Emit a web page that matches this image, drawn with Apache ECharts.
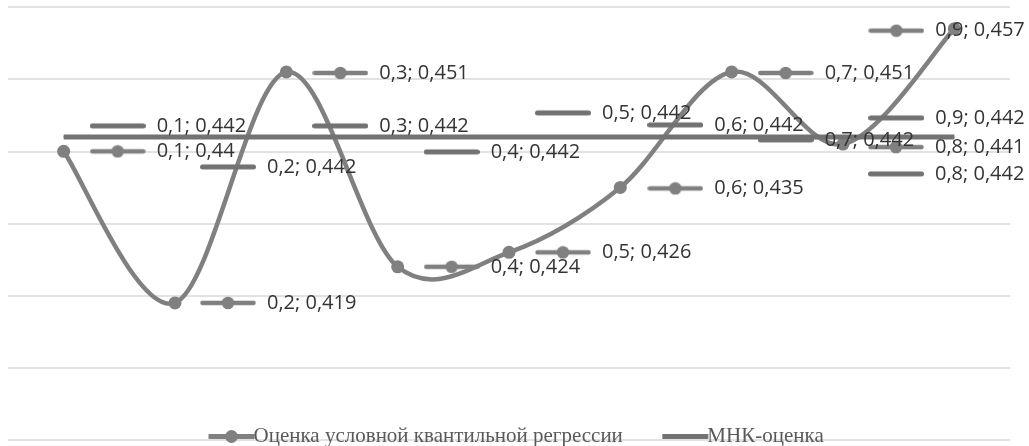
<!DOCTYPE html>
<html>
<head>
<meta charset="utf-8">
<script src="https://cdn.jsdelivr.net/npm/echarts@6/dist/echarts.min.js"></script>
<style>
  html, body { margin: 0; padding: 0; background: #ffffff; }
  #chart { width: 1029px; height: 446px; }
</style>
</head>
<body>
<div id="chart"></div>
<script>
// Quantile levels on the category axis
const CATEGORIES = ['0,1', '0,2', '0,3', '0,4', '0,5', '0,6', '0,7', '0,8', '0,9'];
// Conditional quantile regression estimates
const QUANTILE_EST = [0.44, 0.419, 0.451, 0.424, 0.426, 0.435, 0.451, 0.441, 0.457];
// OLS estimate (constant across quantiles)
const OLS_EST = [0.442, 0.442, 0.442, 0.442, 0.442, 0.442, 0.442, 0.442, 0.442];
const SERIES_NAMES = ['Оценка условной квантильной регрессии', 'МНК-оценка'];

// Label placement: [dx, dy] in px from the data point to the label's key start
const QUANT_LABEL_SHIFT = [[26, 0], [25, 0], [26, 1], [26, 0], [26, 0], [27, 1], [26, 1], [25, 3], [-86, 2]];
const OLS_LABEL_SHIFT = [[26, -11], [25, 30], [26, -11], [26, 15], [26, -24], [27, -12], [26, 3], [25, 37], [-86, -19]];

const COLOR_Q = '#808080';
const COLOR_OLS = '#727272';
const Q_WIDTH = 4.5;

// Small legend-key pictures placed in front of each data label
function makeKey(color, lineWidth, withDot) {
  const c = document.createElement('canvas');
  c.width = 56; c.height = 14;
  const g = c.getContext('2d');
  g.strokeStyle = color;
  g.lineWidth = lineWidth;
  g.lineCap = 'round';
  g.beginPath();
  g.moveTo(2.5, 7); g.lineTo(53.5, 7);
  g.stroke();
  if (withDot) {
    g.fillStyle = color;
    g.beginPath();
    g.arc(28, 7, 6.3, 0, Math.PI * 2);
    g.fill();
  }
  return c;
}
const KEY_Q = makeKey(COLOR_Q, 4.5, true);
const KEY_OLS = makeKey(COLOR_OLS, 5, false);

const fmt = v => String(v).replace('.', ',');

function labelCfg(keyImg) {
  return {
    show: true,
    formatter: p => '{k| }{t|' + CATEGORIES[p.dataIndex] + '; ' + fmt(p.value) + '}',
    rich: {
      k: { width: 56, height: 14, backgroundColor: { image: keyImg } },
      t: { fontFamily: 'Open Sans', fontSize: 20, color: '#333333', padding: [0, 0, 0, 11] }
    }
  };
}

function layoutWith(shifts) {
  return function (p) {
    const s = shifts[p.dataIndex];
    return {
      x: p.rect.x + p.rect.width / 2 + s[0],
      y: p.rect.y + p.rect.height / 2 + s[1],
      align: 'left',
      verticalAlign: 'middle'
    };
  };
}

// Smoothed curve through the quantile estimates: one cubic Bezier per
// segment, with Catmull-Rom style tangents computed in pixel space.
function renderCurveSegment(params, api) {
  const i = params.dataIndex;
  const n = QUANTILE_EST.length;
  if (i >= n - 1) return null;
  const clampIdx = k => Math.min(Math.max(k, 0), n - 1);
  const pt = k => api.coord([clampIdx(k), QUANTILE_EST[clampIdx(k)]]);
  const p0 = pt(i - 1), p1 = pt(i), p2 = pt(i + 1), p3 = pt(i + 2);
  return {
    type: 'bezierCurve',
    shape: {
      x1: p1[0], y1: p1[1],
      x2: p2[0], y2: p2[1],
      cpx1: p1[0] + (p2[0] - p0[0]) / 6, cpy1: p1[1] + (p2[1] - p0[1]) / 6,
      cpx2: p2[0] - (p3[0] - p1[0]) / 6, cpy2: p2[1] - (p3[1] - p1[1]) / 6
    },
    style: { stroke: COLOR_Q, lineWidth: Q_WIDTH, fill: null, lineCap: 'round' },
    silent: true
  };
}

const chart = echarts.init(document.getElementById('chart'), null, { renderer: 'canvas' });
chart.setOption({
  animation: false,
  backgroundColor: '#ffffff',
  grid: { left: 8, right: 19, top: 7, bottom: 6, containLabel: false },
  xAxis: {
    type: 'category',
    data: CATEGORIES,
    boundaryGap: true,
    axisLine: { show: false },
    axisTick: { show: false },
    axisLabel: { show: false }
  },
  yAxis: {
    type: 'value',
    min: 0.40,
    max: 0.46,
    interval: 0.01,
    axisLine: { show: false },
    axisTick: { show: false },
    axisLabel: { show: false },
    splitLine: { lineStyle: { color: '#d9d9d9', width: 1.5 } }
  },
  legend: {
    top: 421,
    left: 201,
    itemWidth: 46,
    itemHeight: 16,
    itemGap: 37,
    textStyle: { fontFamily: 'Liberation Serif', fontSize: 21, color: '#595959', padding: [0, 0, 0, -6] },
    data: [
      { name: SERIES_NAMES[0], lineStyle: { width: 5, opacity: 1, color: COLOR_Q } },
      { name: SERIES_NAMES[1], lineStyle: { width: 5 }, itemStyle: { opacity: 0 } }
    ]
  },
  series: [
    {
      name: 'curve',
      type: 'custom',
      data: QUANTILE_EST.map((v, i) => [i, v]),
      encode: { x: 0, y: 1 },
      renderItem: renderCurveSegment,
      z: 1
    },
    {
      name: SERIES_NAMES[0],
      type: 'line',
      data: QUANTILE_EST,
      symbol: 'circle',
      symbolSize: 13,
      itemStyle: { color: COLOR_Q },
      lineStyle: { color: COLOR_Q, width: Q_WIDTH, opacity: 0 },
      label: labelCfg(KEY_Q),
      labelLayout: layoutWith(QUANT_LABEL_SHIFT),
      z: 2
    },
    {
      name: SERIES_NAMES[1],
      type: 'line',
      data: OLS_EST,
      symbol: 'circle',
      symbolSize: 1,
      itemStyle: { color: COLOR_OLS },
      lineStyle: { color: COLOR_OLS, width: 5 },
      label: labelCfg(KEY_OLS),
      labelLayout: layoutWith(OLS_LABEL_SHIFT),
      z: 3
    }
  ]
});
</script>
</body>
</html>
